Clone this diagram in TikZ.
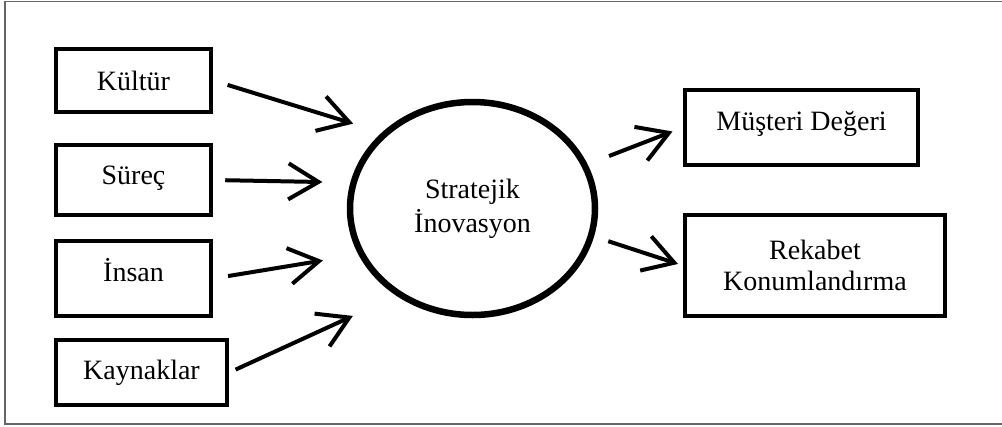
\documentclass[tikz,border=0pt]{standalone}
\usepackage{fontspec}
\setmainfont{Liberation Serif}
\usetikzlibrary{arrows.meta,shapes.geometric}

\begin{document}
\begin{tikzpicture}[x=1pt, y=-1pt,
  font=\fontsize{28}{34}\selectfont,
  box/.style={draw, line width=4.5pt, align=center, inner sep=0pt},
  arr/.style={-{Straight Barb[length=30pt, width=36pt]}, line width=4pt}]
  % fixed page size, frame open on the right
  \useasboundingbox (0,0) rectangle (1002,426);
  \draw[black!60, line width=1.5pt] (1002,1.5) -- (5,1.5) -- (5,424) -- (1002,424);
  % inputs on the left
  \node[box, minimum width=155pt, minimum height=63pt] (kultur) at (133.5,80.5) {Kültür};
  \node[box, minimum width=155pt, minimum height=70pt, text depth=10pt] (surec) at (133.5,180) {Süreç};
  \node[box, minimum width=155pt, minimum height=75pt, text depth=18pt] (insan) at (133.5,278.5) {İnsan};
  \node[box, minimum width=171pt, minimum height=65pt] (kaynak) at (141.5,372.5) {Kaynaklar};
  % central ellipse
  \node[ellipse, draw, line width=6.5pt, inner sep=0pt, align=center,
    minimum width=245pt, minimum height=213pt] (inov) at (472.5,208.5)
    {Stratejik\\İnovasyon};
  % outputs on the right
  \node[box, minimum width=233pt, minimum height=75pt, text depth=14pt] (musteri) at (801.5,127.5) {Müşteri Değeri};
  \node[box, minimum width=260pt, minimum height=101pt,
    font=\fontsize{28}{31}\selectfont] (rekabet) at (815,265.5) {Rekabet\\Konumlandırma};
  % arrows into the ellipse
  \draw[arr, shorten <=15pt, shorten >=30pt] (kultur.east) -- (inov.140);
  \draw[arr, shorten <=12pt, shorten >=28pt] (surec.east) -- (inov.168);
  \draw[arr, shorten <=15pt, shorten >=36pt] (insan.east) -- (inov.202);
  \draw[arr, shorten <=7pt, shorten >=48pt] (kaynak.east) -- (inov.229);
  % arrows out of the ellipse
  \draw[arr, shorten <=23pt, shorten >=11pt] (inov.21) -- (musteri.west);
  \draw[arr, shorten <=15pt, shorten >=5pt] (inov.347) -- (rekabet.west);
\end{tikzpicture}
\end{document}
